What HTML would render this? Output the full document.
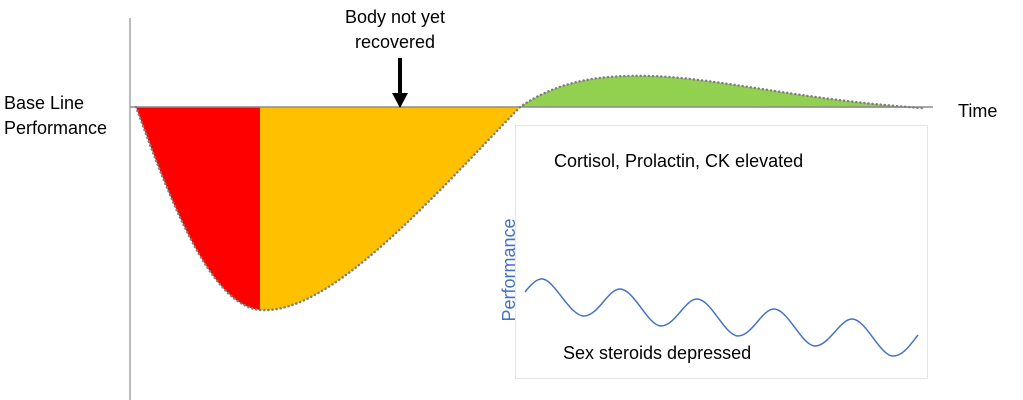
<!DOCTYPE html>
<html><head><style>body{margin:0;background:#fff}svg{display:block}text{font-family:"Liberation Sans",sans-serif;font-size:18px;fill:#000}</style></head>
<body>
<svg width="1023" height="400" viewBox="0 0 1023 400">
<defs><clipPath id="lc"><rect x="0" y="0" width="260" height="400"/></clipPath></defs>
<line x1="130" y1="18" x2="130" y2="400" stroke="#a6a6a6" stroke-width="1.5"/>
<path d="M136,107 C170,200 210,305 260,310 C330,315 430,200 520,107 Z" fill="#ffc000"/>
<path d="M136,107 C170,200 210,305 260,310 C330,315 430,200 520,107 Z" fill="#ff0000" clip-path="url(#lc)"/>
<path d="M520,107 C560,80 600,75 650,76 C720,78 800,100 922,108 Z" fill="#92d050"/>
<line x1="130" y1="107" x2="933" y2="107" stroke="#8c8c8c" stroke-width="1.5"/>
<path d="M136,107 C170,200 210,305 260,310 C330,315 430,200 520,107 C560,80 600,75 650,76 C720,78 800,100 922,108" fill="none" stroke="#7f7f7f" stroke-width="2.5" stroke-dasharray="0.1 4" stroke-linecap="round"/>
<line x1="400" y1="58" x2="400" y2="95" stroke="#000" stroke-width="4"/>
<polygon points="392,93 408,93 400,108" fill="#000"/>
<text x="395" y="23" text-anchor="middle">Body not yet</text>
<text x="395" y="48" text-anchor="middle">recovered</text>
<text x="4" y="109">Base Line</text>
<text x="4" y="134">Performance</text>
<text x="958" y="117">Time</text>
<rect x="515.5" y="125.5" width="412" height="253" fill="#fff" stroke="#e6e6e6"/>
<text x="554" y="167">Cortisol, Prolactin, CK elevated</text>
<text x="563" y="359">Sex steroids depressed</text>
<text transform="translate(515,270) rotate(-90)" text-anchor="middle" style="fill:#4472c4">Performance</text>
<path d="M525,292 C532,283 538,278 543,279 C555,281 570,316 584,316 C598,316 608,289 620,289 C634,289 648,326 661,326 C675,326 685,299 697,299 C711,299 725,336 738,336 C752,336 762,309 774,309 C788,309 802,346 815,346 C829,346 840,319 852,319 C866,319 880,356 893,356 C903,356 910,345 918,335" fill="none" stroke="#4472c4" stroke-width="1.5"/>
</svg>
</body></html>
